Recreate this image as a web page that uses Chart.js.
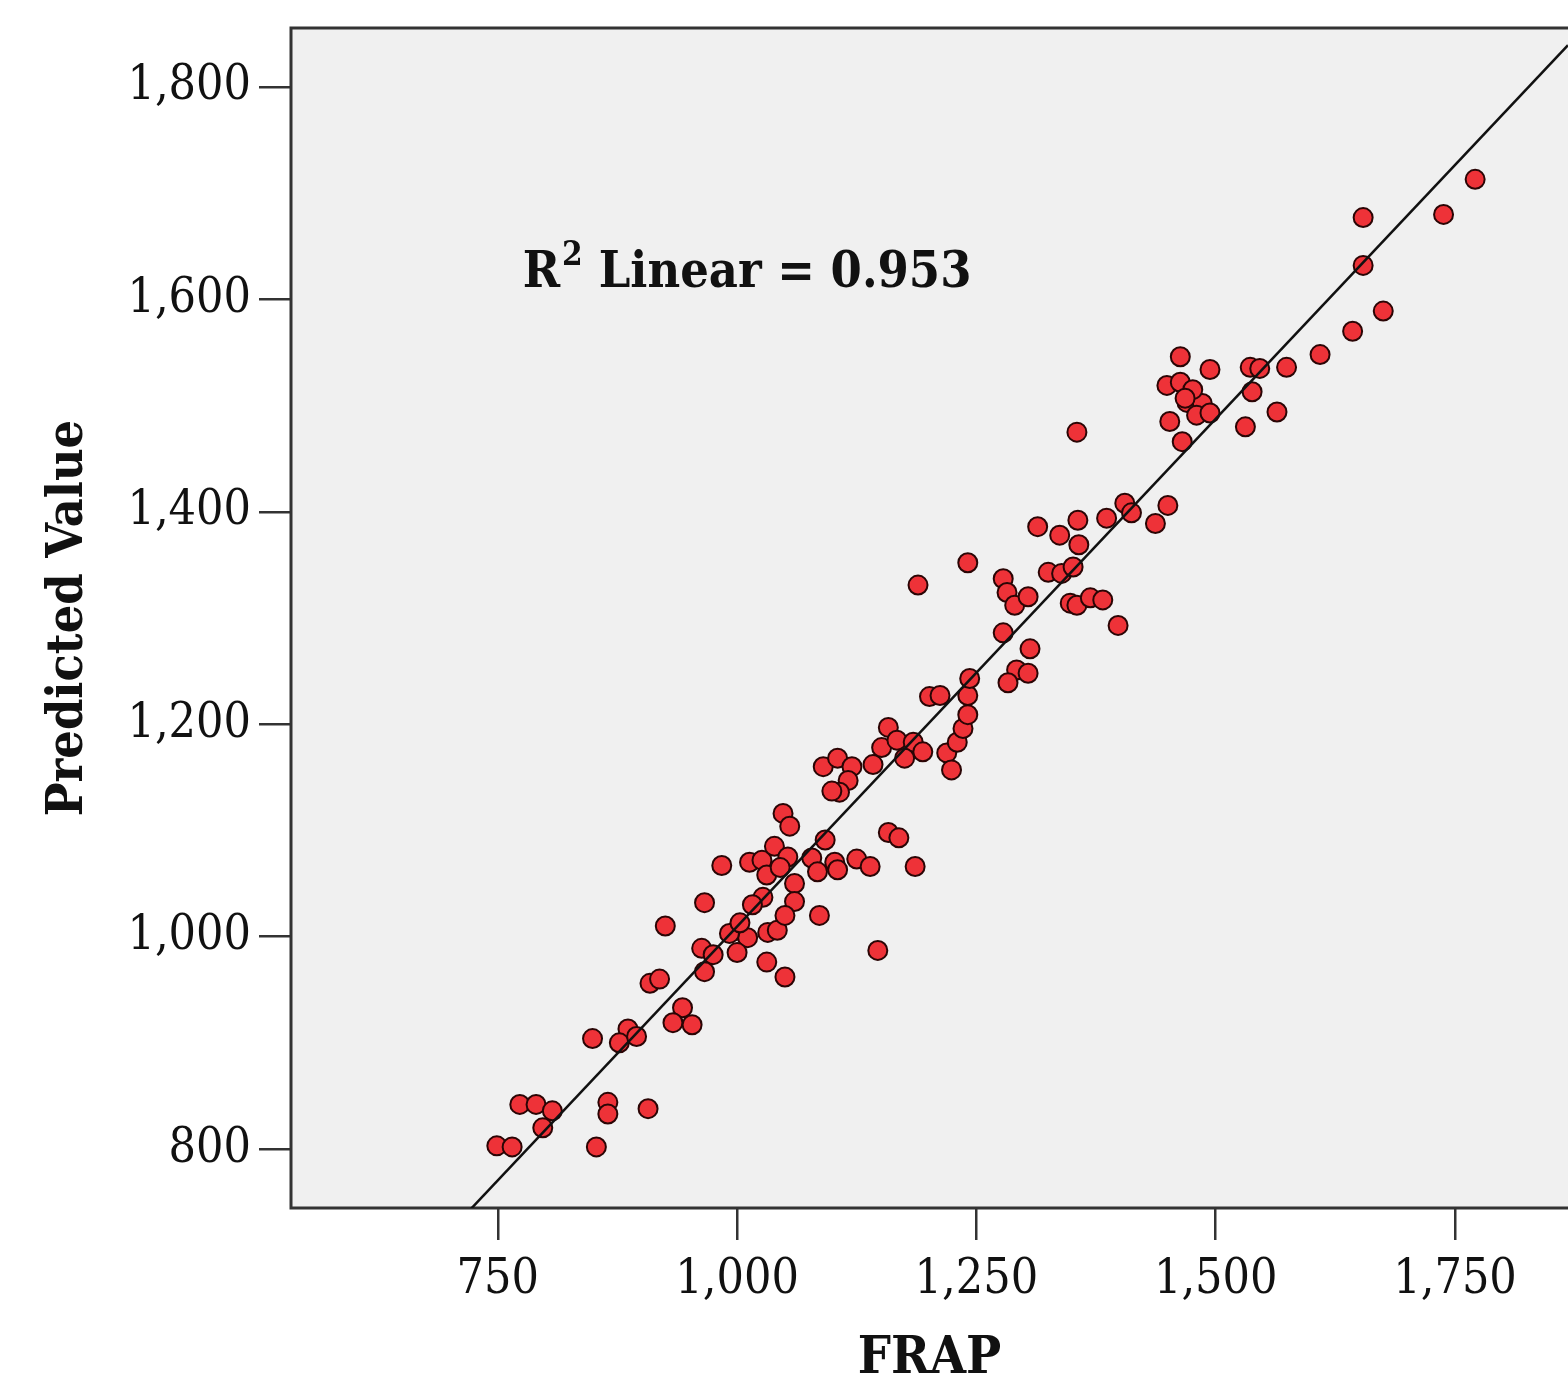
<!DOCTYPE html>
<html>
<head>
<meta charset="utf-8">
<script src="https://cdn.jsdelivr.net/npm/chart.js@4.4.1/dist/chart.umd.min.js"></script>
<style>
  html, body { margin: 0; padding: 0; background: #fff; overflow: hidden; }
  canvas { display: block; }
</style>
</head>
<body>
<canvas id="scatter" width="1568" height="1379"></canvas>
<script>
// FRAP (x) vs Predicted Value (y)
const frap = [
  749, 765, 773, 790, 807, 797, 865, 865, 907, 853,
  849, 886, 877, 895, 943, 933, 953, 909, 919, 925,
  963, 975, 966, 966, 1000, 1011, 992, 1003, 1000, 1032,
  1042, 1031, 1050, 1147, 1027, 1016, 1060, 1060, 1050, 1086,
  984, 1013, 1026, 1039, 1053, 1031, 1045, 1078, 1102, 1125,
  1139, 1084, 1105, 1092, 1048, 1055, 1158, 1169, 1186, 1090,
  1105, 1120, 1116, 1107, 1099, 1142, 1158, 1151, 1167, 1184,
  1194, 1175, 1219, 1224, 1230, 1236, 1241, 1241, 1243, 1201,
  1212, 1189, 1241, 1278, 1282, 1290, 1304, 1325, 1339, 1351,
  1348, 1355, 1369, 1382, 1398, 1278, 1306, 1292, 1304, 1283,
  1355, 1452, 1465, 1470, 1486, 1480, 1494, 1405, 1412, 1386,
  1450, 1437, 1314, 1337, 1356, 1357, 1463, 1494, 1449, 1463,
  1476, 1468, 1536, 1546, 1574, 1609, 1538, 1564, 1531, 1643,
  1675, 1654, 1654, 1738, 1771
];
const predicted = [
  803, 802, 842, 842, 836, 820, 844, 833, 838, 802,
  904, 913, 900, 906, 933, 919, 917, 956, 960, 1010,
  989, 983, 967, 1032, 1006, 999, 1003, 1013, 985, 1004,
  1006, 976, 962, 987, 1037, 1030, 1050, 1033, 1020, 1020,
  1067, 1070, 1072, 1085, 1075, 1058, 1065, 1074, 1070, 1073,
  1066, 1061, 1063, 1091, 1116, 1104, 1098, 1093, 1066, 1160,
  1168, 1160, 1147, 1136, 1137, 1162, 1197, 1178, 1185, 1183,
  1174, 1168, 1173, 1157, 1183, 1196, 1209, 1227, 1243, 1226,
  1227, 1331, 1352, 1337, 1324, 1312, 1320, 1343, 1342, 1348,
  1314, 1312, 1319, 1317, 1293, 1286, 1271, 1251, 1248, 1239,
  1475, 1485, 1466, 1503, 1502, 1491, 1493, 1408, 1399, 1394,
  1406, 1389, 1386, 1378, 1392, 1369, 1546, 1534, 1519, 1522,
  1515, 1507, 1536, 1535, 1536, 1548, 1513, 1494, 1480, 1570,
  1589, 1632, 1677, 1680, 1713
];

const xTicks = [750, 1000, 1250, 1500, 1750];
const yTicks = [800, 1000, 1200, 1400, 1600, 1800];
const xRange = [534, 1868];
const yRange = [744.5, 1855.5];

// fit line as drawn in the picture
const fitIntercept = 53.5;
const fitSlope = 0.956;
const r2Text = 'Linear = 0.953';

const serif = "'DejaVu Serif Condensed', 'DejaVu Serif', serif";

const points = frap.map((x, i) => ({ x: x, y: predicted[i] }));
const fitLine = xRange.map((x) => ({ x: x, y: fitIntercept + fitSlope * x }));

// grey plot background and frame
const plotFrame = {
  id: 'plotFrame',
  beforeDatasetsDraw(chart) {
    const { ctx, chartArea: a } = chart;
    ctx.save();
    ctx.fillStyle = '#f0f0f0';
    ctx.fillRect(a.left, a.top, a.right - a.left, a.bottom - a.top);
    ctx.strokeStyle = '#333';
    ctx.lineWidth = 3;
    ctx.beginPath();
    ctx.moveTo(a.right, a.top);
    ctx.lineTo(a.left, a.top);
    ctx.lineTo(a.left, a.bottom);
    ctx.lineTo(a.right, a.bottom);
    ctx.stroke();
    ctx.restore();
  },
};

// R-squared label
const r2Label = {
  id: 'r2Label',
  afterDatasetsDraw(chart) {
    const { ctx, scales } = chart;
    const x = scales.x.getPixelForValue(776);
    const y = scales.y.getPixelForValue(1612);
    ctx.save();
    ctx.fillStyle = '#111';
    ctx.textBaseline = 'alphabetic';
    ctx.font = 'bold 50px ' + serif;
    ctx.fillText('R', x, y);
    const rw = ctx.measureText('R').width;
    ctx.font = 'bold 33px ' + serif;
    ctx.fillText('2', x + rw + 2, y - 22);
    const sw = ctx.measureText('2').width;
    ctx.font = 'bold 50px ' + serif;
    ctx.fillText(r2Text, x + rw + sw + 18, y);
    ctx.restore();
  },
};

const fmt = (v) => v.toLocaleString('en-US');

const noEdgePadding = (s) => {
  s.paddingTop = 0;
  s.paddingBottom = 0;
  s.paddingLeft = 0;
  s.paddingRight = 0;
};

new Chart(document.getElementById('scatter'), {
  type: 'scatter',
  data: {
    datasets: [
      {
        data: points,
        pointRadius: 9.5,
        pointHoverRadius: 9.5,
        pointBackgroundColor: '#ee3238',
        pointBorderColor: '#2a0505',
        pointBorderWidth: 2,
        order: 1,
      },
      {
        type: 'line',
        data: fitLine,
        borderColor: '#111',
        borderWidth: 2.5,
        pointRadius: 0,
        fill: false,
        order: 0,
      },
    ],
  },
  options: {
    responsive: false,
    animation: false,
    devicePixelRatio: 1,
    layout: { autoPadding: false, padding: { top: 28, right: 0, left: 0, bottom: 0 } },
    plugins: {
      legend: { display: false },
      tooltip: { enabled: false },
    },
    scales: {
      x: {
        type: 'linear',
        min: xRange[0],
        max: xRange[1],
        afterBuildTicks: (s) => { s.ticks = xTicks.map((v) => ({ value: v })); },
        afterFit: (s) => { s.height = 171; noEdgePadding(s); },
        border: { display: false },
        grid: { drawOnChartArea: false, drawTicks: true, tickLength: 32, color: '#333', lineWidth: 2.5 },
        ticks: {
          color: '#111',
          font: { family: serif, size: 48 },
          padding: 12,
          maxRotation: 0,
          callback: fmt,
        },
        title: {
          display: true,
          text: 'FRAP',
          color: '#111',
          font: { family: serif, size: 52, weight: 'bold', lineHeight: 1 },
          padding: { top: 0, bottom: -6 },
        },
      },
      y: {
        type: 'linear',
        min: yRange[0],
        max: yRange[1],
        afterBuildTicks: (s) => { s.ticks = yTicks.map((v) => ({ value: v })); },
        afterFit: (s) => { s.width = 291; noEdgePadding(s); },
        border: { display: false },
        grid: { drawOnChartArea: false, drawTicks: true, tickLength: 32, color: '#333', lineWidth: 2.5 },
        ticks: {
          color: '#111',
          font: { family: serif, size: 48 },
          padding: 8,
          callback: fmt,
        },
        title: {
          display: true,
          text: 'Predicted Value',
          color: '#111',
          font: { family: serif, size: 50, weight: 'bold', lineHeight: 1 },
          padding: { top: 44, bottom: 0 },
        },
      },
    },
  },
  plugins: [plotFrame, r2Label],
});
</script>
</body>
</html>
